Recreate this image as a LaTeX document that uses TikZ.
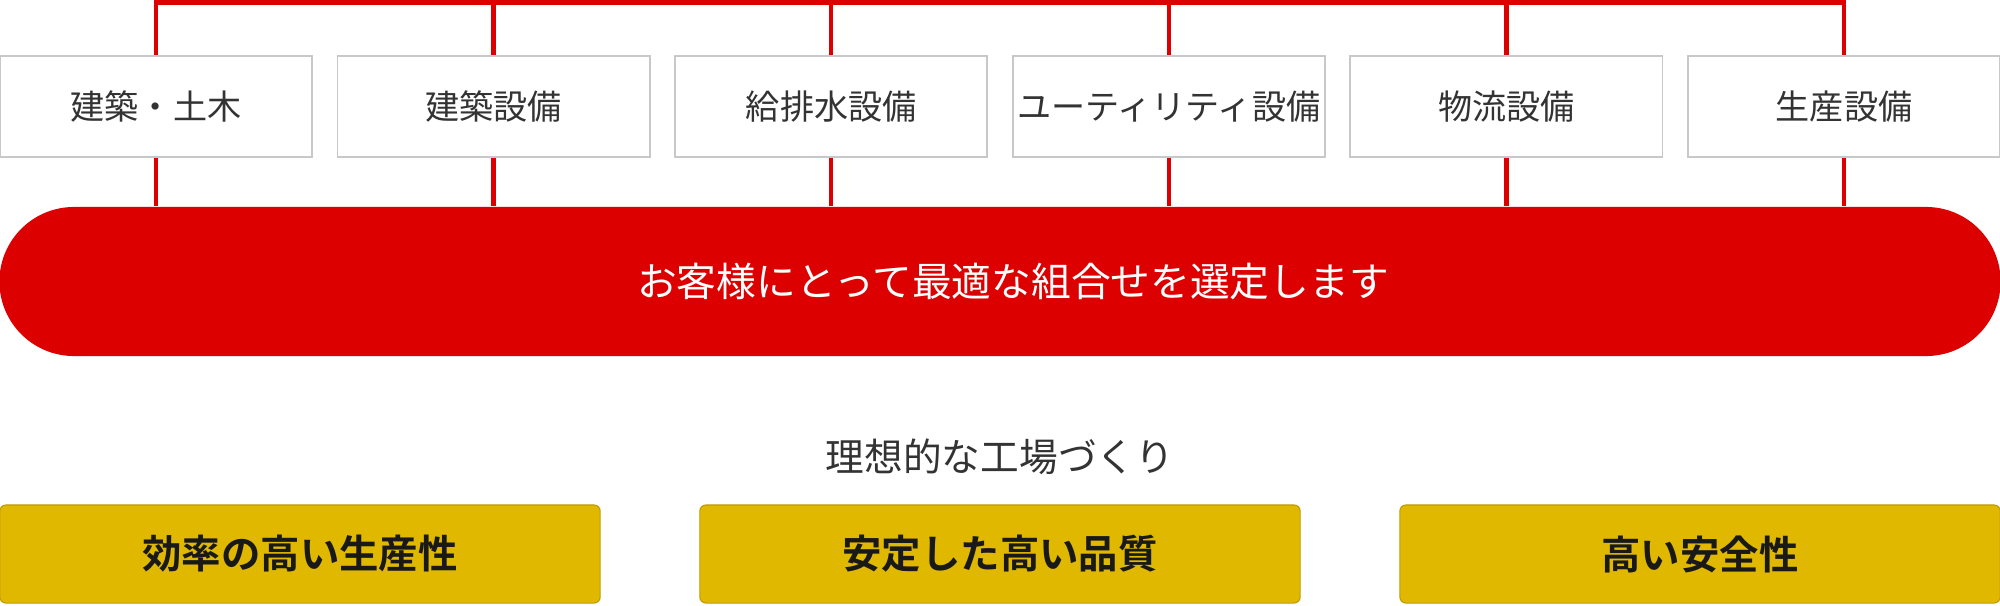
\documentclass[tikz,border=0pt]{standalone}
\usepackage{fontspec}
\setmainfont{Noto Sans CJK JP}[BoldFont={Noto Sans CJK JP Bold}]
\usetikzlibrary{positioning, calc}
\definecolor{tred}{HTML}{DC0000}
\definecolor{tgold}{HTML}{E0B800}
\definecolor{tgray}{HTML}{C8C8C8}
\definecolor{ttext}{HTML}{333333}

\begin{document}
\begin{tikzpicture}[x=0.01cm, y=0.01cm,
    field/.style={draw=tgray, line width=0.5pt, fill=white, minimum width=3.12cm,
      minimum height=1.01cm, inner sep=0pt, text=ttext, font=\fontsize{9.7}{12}\selectfont},
    goal/.style={draw=tgold!85!black, line width=0.3pt, fill=tgold, rounded corners=0.06cm,
      minimum width=6cm, minimum height=0.98cm, inner sep=0pt, text=black!90,
      font=\bfseries\fontsize{11.2}{13}\selectfont},
    link/.style={tred, line width=1.3pt}]
    \def\pitch{337.6}
    \def\bary{602.5}

    \useasboundingbox (0,0) rectangle (2000,605);

    % Fields
    \foreach \name [count=\i] in {建築・土木,建築設備,給排水設備,ユーティリティ設備,物流設備,生産設備}
      \node[field] (f\i) at ({156+(\i-1)*\pitch},498.5) {\name};

    % Selection
    \node[fill=tred, rounded corners=0.745cm, minimum width=20cm, minimum height=1.49cm,
      inner sep=0pt] (pick) at (1000,323.5) {};
    \node[text=white, font=\fontsize{11.3}{13}\selectfont] (picktext)
      at ([xshift=0.13cm]pick.center) {お客様にとって最適な組合せを選定します};

    % Links
    \coordinate (t1) at (f1.north |- 0,\bary);
    \coordinate (t6) at (f6.north |- 0,\bary);
    \draw[link, line join=miter] (f1.north) -- (t1) -- (t6) -- (f6.north);
    \foreach \i in {2,...,5}
      \draw[link] (f\i.north) -- (f\i.north |- t1);
    \foreach \i in {1,...,6}
      \draw[link] (f\i.south) -- (f\i.south |- pick.north);

    % Goals
    \node[text=ttext, font=\fontsize{11}{13}\selectfont] (ideal) at (1000,148) {理想的な工場づくり};
    \node[goal] (g1) at (300,51) {効率の高い生産性};
    \node[goal] (g2) at (1000,51) {安定した高い品質};
    \node[goal] (g3) at (1700,51) {高い安全性};
\end{tikzpicture}
\end{document}
